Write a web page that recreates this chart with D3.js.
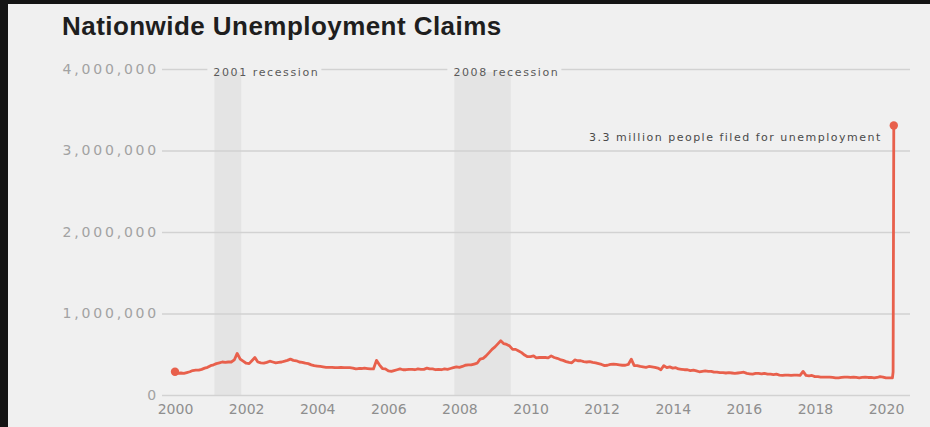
<!DOCTYPE html>
<html>
<head>
<meta charset="utf-8">
<script src="https://cdn.jsdelivr.net/npm/d3@7"></script>
<style>
  html, body { margin: 0; padding: 0; background: #141414; }
  svg { display: block; }
</style>
</head>
<body>
<svg id="chart" width="930" height="427"></svg>
<script>
// Weekly initial unemployment claims, averaged per month (persons), Jan 2000 – Feb 2020
const monthlyStart = "2000-01-01";
const monthlyClaims = [
  285000, 265000, 270000, 265000, 275000, 285000, 300000, 305000, 305000, 315000, 330000, 340000, // 2000
  360000, 370000, 385000, 395000, 405000, 400000, 405000, 405000, 430000, 510000, 440000, 415000, // 2001
  390000, 385000, 420000, 460000, 405000, 395000, 390000, 400000, 415000, 405000, 395000, 400000, // 2002
  405000, 415000, 425000, 440000, 425000, 420000, 405000, 400000, 390000, 385000, 370000, 360000, // 2003
  355000, 350000, 345000, 340000, 340000, 340000, 335000, 335000, 340000, 335000, 335000, 335000, // 2004
  330000, 320000, 325000, 325000, 330000, 325000, 320000, 320000, 425000, 370000, 325000, 320000, // 2005
  295000, 290000, 300000, 310000, 320000, 310000, 310000, 315000, 315000, 310000, 320000, 315000, // 2006
  315000, 330000, 320000, 320000, 310000, 315000, 310000, 320000, 315000, 325000, 335000, 345000, // 2007
  340000, 350000, 365000, 370000, 370000, 380000, 390000, 440000, 450000, 480000, 520000, 560000, // 2008
  590000, 630000, 665000, 630000, 620000, 600000, 560000, 560000, 540000, 520000, 490000, 470000, // 2009
  470000, 480000, 455000, 460000, 460000, 460000, 455000, 480000, 460000, 450000, 435000, 425000, // 2010
  410000, 400000, 395000, 430000, 420000, 420000, 410000, 405000, 410000, 400000, 395000, 385000, // 2011
  375000, 360000, 365000, 375000, 380000, 375000, 370000, 365000, 365000, 375000, 440000, 360000, // 2012
  360000, 350000, 345000, 340000, 350000, 345000, 340000, 330000, 310000, 360000, 335000, 345000, // 2013
  330000, 335000, 320000, 315000, 310000, 310000, 300000, 305000, 295000, 285000, 290000, 295000, // 2014
  290000, 290000, 280000, 280000, 275000, 275000, 270000, 275000, 270000, 265000, 270000, 275000, // 2015
  280000, 265000, 260000, 255000, 265000, 265000, 260000, 265000, 255000, 255000, 250000, 255000, // 2016
  245000, 240000, 245000, 245000, 240000, 245000, 245000, 240000, 290000, 240000, 235000, 240000, // 2017
  225000, 225000, 220000, 220000, 220000, 220000, 215000, 210000, 210000, 215000, 220000, 220000, // 2018
  215000, 220000, 215000, 210000, 215000, 220000, 215000, 215000, 210000, 215000, 225000, 220000, // 2019
  210000, 210000                                                                                  // 2020
];

// Individual weeks of March 2020
const march2020Weeks = ["2020-03-07", "2020-03-14", "2020-03-21"];
const march2020Claims = [211000, 282000, 3307000];

// Recession periods (NBER)
const recessionNames = ["2001 recession", "2008 recession"];
const recessionStarts = ["2001-03-01", "2007-12-01"];
const recessionEnds = ["2001-11-01", "2009-06-01"];

const yTicks = [0, 1000000, 2000000, 3000000, 4000000];
const xTickYears = [2000, 2002, 2004, 2006, 2008, 2010, 2012, 2014, 2016, 2018, 2020];

const titleText = "Nationwide Unemployment Claims";
const calloutText = "3.3 million people filed for unemployment";

const parse = d3.timeParse("%Y-%m-%d");
const start = parse(monthlyStart);
const series = monthlyClaims.map((v, i) => ({ date: d3.timeMonth.offset(start, i), value: v }))
  .concat(march2020Weeks.map((d, i) => ({ date: parse(d), value: march2020Claims[i] })));

const svg = d3.select("#chart");
const W = 930, H = 427;
const panel = "#f0f0f0";

// light panel
svg.append("rect").attr("x", 8).attr("y", 4).attr("width", W - 8).attr("height", H - 4).attr("fill", panel);

const x = d3.scaleTime().domain([new Date(2000, 0, 1), new Date(2020, 0, 1)]).range([175, 886]);
const y = d3.scaleLinear().domain([0, 4000000]).range([395, 69]);
const gridLeft = 162, gridRight = 910;

// title
svg.append("text")
  .attr("x", 62).attr("y", 35)
  .attr("font-family", "Liberation Sans, Arial, sans-serif")
  .attr("font-weight", "bold")
  .attr("font-size", 26)
  .attr("letter-spacing", 0.45)
  .attr("fill", "#1e1e1e")
  .text(titleText);

// recession bands
const bands = svg.append("g");
recessionNames.forEach((name, i) => {
  const x0 = x(parse(recessionStarts[i])), x1 = x(parse(recessionEnds[i]));
  bands.append("rect")
    .attr("x", x0 - 2).attr("y", y(4000000))
    .attr("width", x1 - x0 + 3).attr("height", y(0) - y(4000000))
    .attr("fill", "#e4e4e4");
});

// y axis with gridlines
const yAxis = svg.append("g")
  .attr("transform", `translate(${gridLeft},0)`)
  .call(d3.axisLeft(y).tickValues(yTicks).tickFormat(d3.format(","))
    .tickSize(-(gridRight - gridLeft)).tickPadding(3));
yAxis.select(".domain").remove();
yAxis.selectAll(".tick line").attr("stroke", "#d2d2d2").attr("stroke-width", 1.5);
yAxis.selectAll(".tick text")
  .attr("font-family", "DejaVu Sans, sans-serif")
  .attr("font-size", 14)
  .attr("letter-spacing", 2.8)
  .attr("fill", "#a2a2a2");

// x axis
const xAxis = svg.append("g")
  .attr("transform", `translate(0,${y(0)})`)
  .call(d3.axisBottom(x).tickValues(xTickYears.map(yr => new Date(yr, 0, 1)))
    .tickFormat(d3.timeFormat("%Y")).tickSize(0).tickPadding(9));
xAxis.select(".domain").remove();
xAxis.selectAll(".tick text")
  .attr("font-family", "DejaVu Sans, sans-serif")
  .attr("font-size", 14)
  .attr("fill", "#8e8e8e");

// recession labels, knocked out of the top gridline
recessionNames.forEach((name, i) => {
  const lx = x(parse(recessionStarts[i])) - 3;
  const g = svg.append("g");
  const t = g.append("text")
    .attr("x", lx).attr("y", y(4000000) + 7)
    .attr("font-family", "DejaVu Sans, sans-serif")
    .attr("font-size", 11)
    .attr("letter-spacing", 1.6)
    .attr("fill", "#5a5a5a")
    .text(name);
  const bb = t.node().getBBox();
  g.insert("rect", "text")
    .attr("x", bb.x - 6).attr("y", y(4000000) - 3)
    .attr("width", bb.width + 8).attr("height", 6)
    .attr("fill", panel);
});

// claims line
const line = d3.line().x(d => x(d.date)).y(d => y(d.value));
svg.append("path")
  .datum(series)
  .attr("d", line)
  .attr("fill", "none")
  .attr("stroke", "#e8604c")
  .attr("stroke-width", 2.8)
  .attr("stroke-linejoin", "round");

// end points
[series[0], series[series.length - 1]].forEach(d => {
  svg.append("circle")
    .attr("cx", x(d.date)).attr("cy", y(d.value)).attr("r", 4.2)
    .attr("fill", "#e8604c");
});

// callout
const last = series[series.length - 1];
svg.append("text")
  .attr("x", x(last.date) - 12).attr("y", y(last.value) + 16)
  .attr("text-anchor", "end")
  .attr("font-family", "DejaVu Sans, sans-serif")
  .attr("font-size", 11)
  .attr("letter-spacing", 1.5)
  .attr("fill", "#4a4a4a")
  .text(calloutText);
</script>
</body>
</html>
